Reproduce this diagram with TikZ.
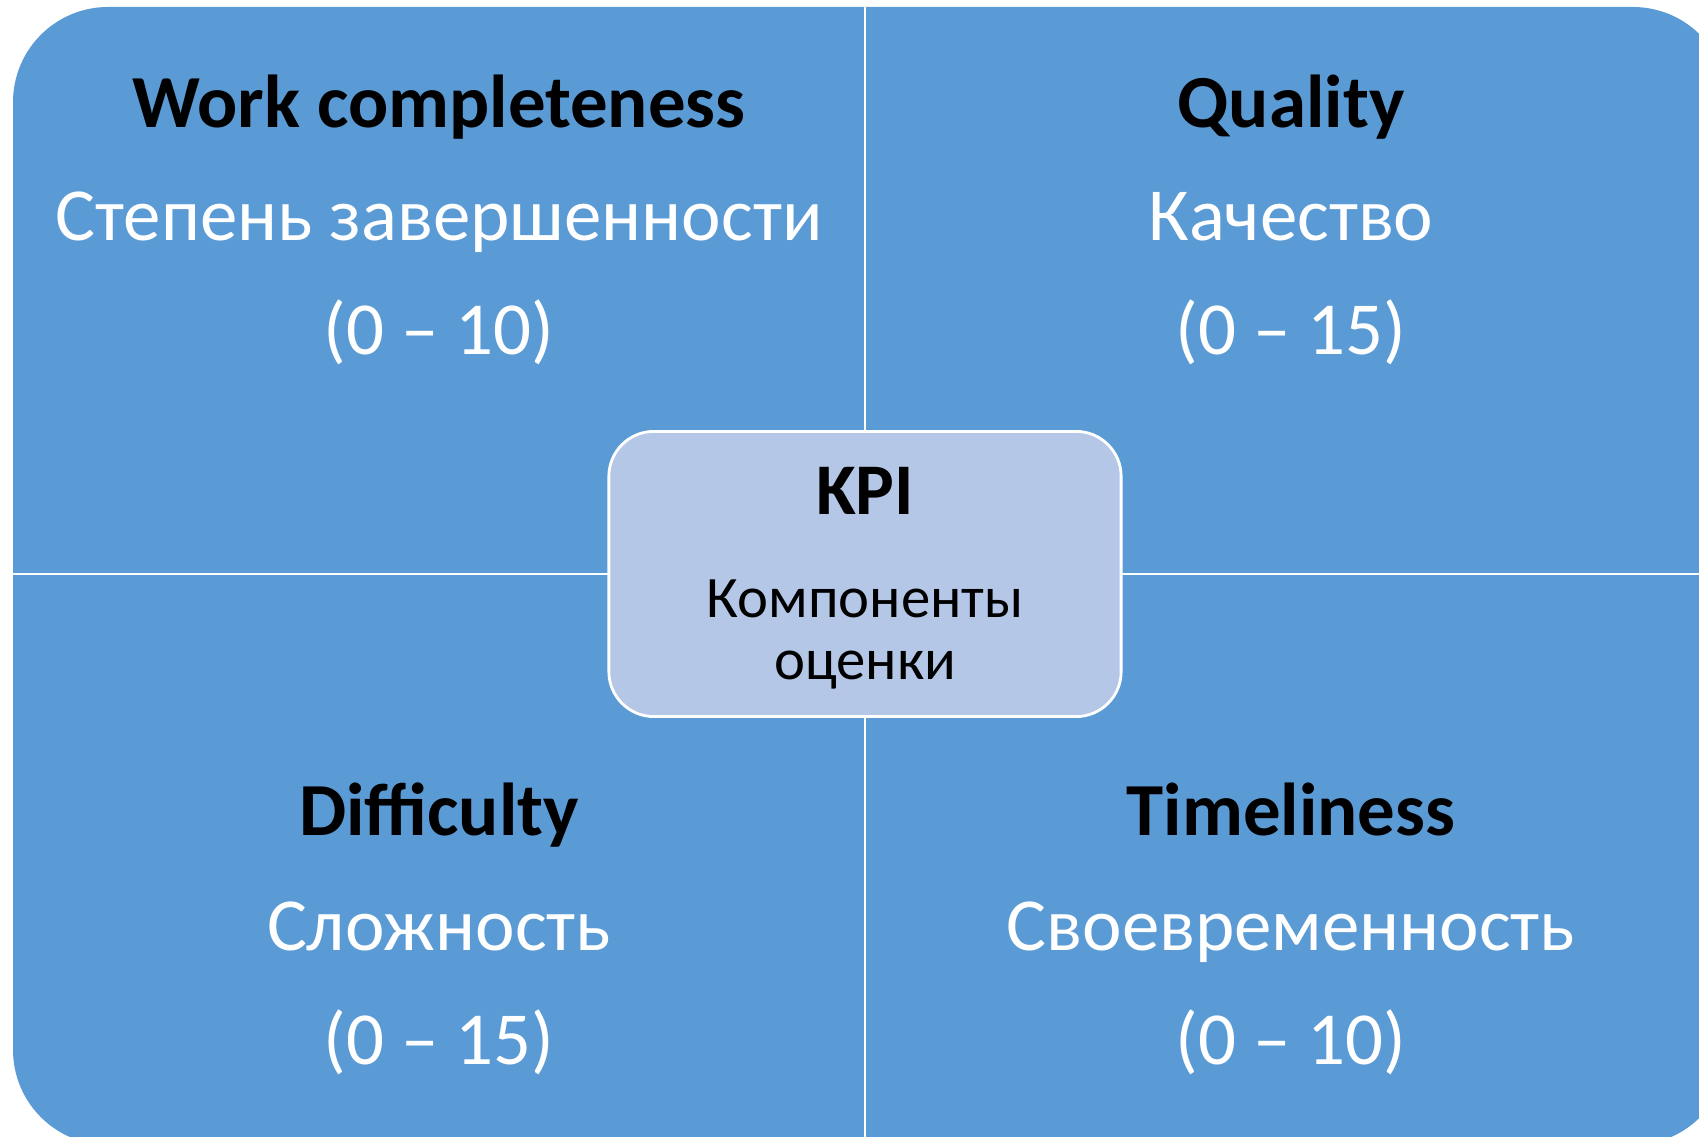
\documentclass[tikz,border=0pt]{standalone}
\usepackage{fontspec}
\setmainfont{Carlito}
\usetikzlibrary{positioning}
\definecolor{quadblue}{HTML}{5B9BD5}
\definecolor{kpiblue}{HTML}{B4C7E7}
\tikzset{
  quad title/.style={anchor=base, text=black,
    font=\fontsize{21.3}{25}\selectfont\bfseries},
  quad text/.style={anchor=base, text=white,
    font=\fontsize{21.3}{25}\selectfont},
  kpi box/.style={draw=white, line width=0.8pt, fill=kpiblue,
    rounded corners=0.45cm, minimum width=5.12cm, minimum height=2.85cm},
  kpi title/.style={anchor=base, font=\fontsize{20.7}{24}\selectfont\bfseries},
  kpi text/.style={anchor=base, font=\fontsize{16.7}{20}\selectfont}
}

\begin{document}
\begin{tikzpicture}[x=0.01cm, y=-0.01cm]

  \newcommand\XA{439};
  \newcommand\XB{1291};
  \newcommand\XM{865};
  \newcommand\YM{574};

  \useasboundingbox (0,0) rectangle (1699,1137);
  \clip (0,0) rectangle (1699,1137);

  % quadrants
  \fill[quadblue, rounded corners=0.95cm] (13,7) rectangle (1728,1145);
  \draw[white, line width=0.6pt] (\XM,7) -- (\XM,1145);
  \draw[white, line width=0.6pt] (13,\YM) -- (1728,\YM);

  % top left
  \node[quad title] (work) at (\XA,128) {Work completeness};
  \node[quad text] (workru) at (\XA,240.5) {Степень завершенности};
  \node[quad text] (workpts) at (\XA,355) {(0 – 10)};

  % top right
  \node[quad title] (quality) at (\XB,128) {Quality};
  \node[quad text] (qualityru) at (\XB,240.5) {Качество};
  \node[quad text] (qualitypts) at (\XB,355) {(0 – 15)};

  % bottom left
  \node[quad title] (diff) at (\XA,836) {Difficulty};
  \node[quad text] (diffru) at (\XA,951) {Сложность};
  \node[quad text] (diffpts) at (\XA,1065) {(0 – 15)};

  % bottom right
  \node[quad title] (time) at (\XB,836) {Timeliness};
  \node[quad text] (timeru) at (\XB,951) {Своевременность};
  \node[quad text] (timepts) at (\XB,1065) {(0 – 10)};

  % centre
  \node[kpi box] (kpi) at (\XM,\YM) {};
  \node[kpi title] (kpitop) at (\XM,515) {KPI};
  \node[kpi text] (kpiru) at (\XM,617.6) {Компоненты};
  \node[kpi text] (kpiru2) at (\XM,680) {оценки};

\end{tikzpicture}
\end{document}
